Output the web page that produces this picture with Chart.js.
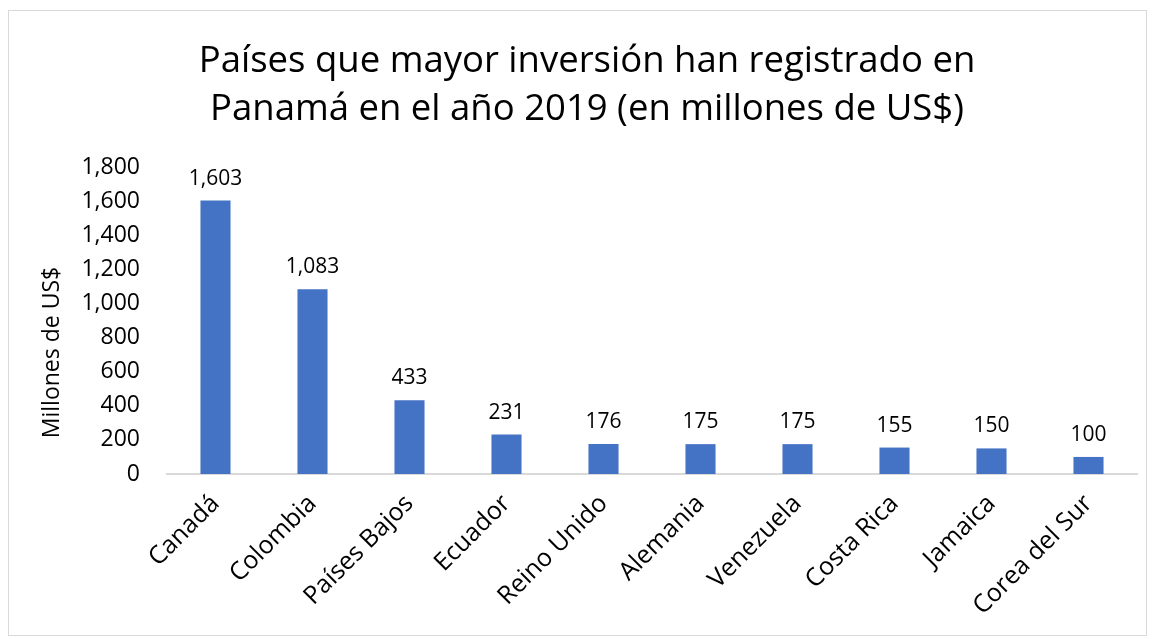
<!DOCTYPE html>
<html>
<head>
<meta charset="utf-8">
<script src="https://cdn.jsdelivr.net/npm/chart.js@4/dist/chart.umd.min.js"></script>
<style>
  html, body { margin: 0; padding: 0; background: #fff; }
  #wrap { position: absolute; left: 8px; top: 10px; width: 1137px; height: 624px; border: 1px solid #d9d9d9; }
  canvas { display: block; }
</style>
</head>
<body>
<div id="wrap"><canvas id="c" width="1137" height="624"></canvas></div>
<script>
const categories = ["Canadá", "Colombia", "Países Bajos", "Ecuador", "Reino Unido", "Alemania", "Venezuela", "Costa Rica", "Jamaica", "Corea del Sur"];
const values = [1603, 1083, 433, 231, 176, 175, 175, 155, 150, 100];
const titleLines = ["Países que mayor inversión han registrado en", "Panamá en el año 2019 (en millones de US$)"];
const yAxisTitle = "Millones de US$";
const yMin = 0, yMax = 1800, yStep = 200;

const FONT = "'Open Sans', Lato, sans-serif";

const dataLabels = {
  id: 'dataLabels',
  afterDatasetsDraw(chart) {
    const ctx = chart.ctx;
    const meta = chart.getDatasetMeta(0);
    ctx.save();
    ctx.font = "21px " + FONT;
    ctx.fillStyle = "#000";
    ctx.textAlign = "center";
    ctx.textBaseline = "alphabetic";
    meta.data.forEach((bar, i) => {
      ctx.fillText(values[i].toLocaleString('en-US'), bar.x, bar.y - 16);
    });
    ctx.restore();
  }
};

// y-axis title, placed like the original (a little below the plot's centre)
const yTitle = {
  id: 'yTitle',
  afterDraw(chart) {
    const ctx = chart.ctx;
    const a = chart.chartArea;
    ctx.save();
    ctx.translate(43, (a.top + a.bottom) / 2 + 32);
    ctx.rotate(-Math.PI / 2);
    ctx.font = "23px " + FONT;
    ctx.fillStyle = "#000";
    ctx.textAlign = "center";
    ctx.textBaseline = "middle";
    ctx.fillText(yAxisTitle, 0, 0);
    ctx.restore();
  }
};

new Chart(document.getElementById('c'), {
  type: 'bar',
  data: {
    labels: categories,
    datasets: [{
      data: values,
      backgroundColor: '#4472C4',
      categoryPercentage: 1,
      barPercentage: 0.31
    }]
  },
  options: {
    responsive: false,
    animation: false,
    layout: { padding: { left: 28, right: 9, top: 0, bottom: 0 } },
    plugins: {
      legend: { display: false },
      tooltip: { enabled: false },
      title: {
        display: true,
        text: titleLines,
        color: '#000',
        font: { family: FONT, size: 36.5, weight: 'normal', lineHeight: 1.315 },
        padding: { top: 27, bottom: 33 }
      }
    },
    scales: {
      x: {
        grid: { display: false, drawTicks: false },
        border: { display: true, color: '#d9d9d9', width: 2 },
        ticks: {
          color: '#000',
          font: { family: FONT, size: 25 },
          maxRotation: 45, minRotation: 45,
          padding: 15,
          autoSkip: false
        },
        afterFit(scale) { scale.height = 161; }
      },
      y: {
        min: yMin, max: yMax,
        grid: { display: false, drawTicks: false, tickLength: 0 },
        border: { display: false },
        ticks: {
          stepSize: yStep,
          color: '#000',
          font: { family: FONT, size: 23 },
          padding: 27,
          callback: v => v.toLocaleString('en-US')
        },
        title: { display: false, text: yAxisTitle },
        afterFit(scale) { scale.width = 130; }
      }
    }
  },
  plugins: [dataLabels, yTitle]
});
</script>
</body>
</html>
